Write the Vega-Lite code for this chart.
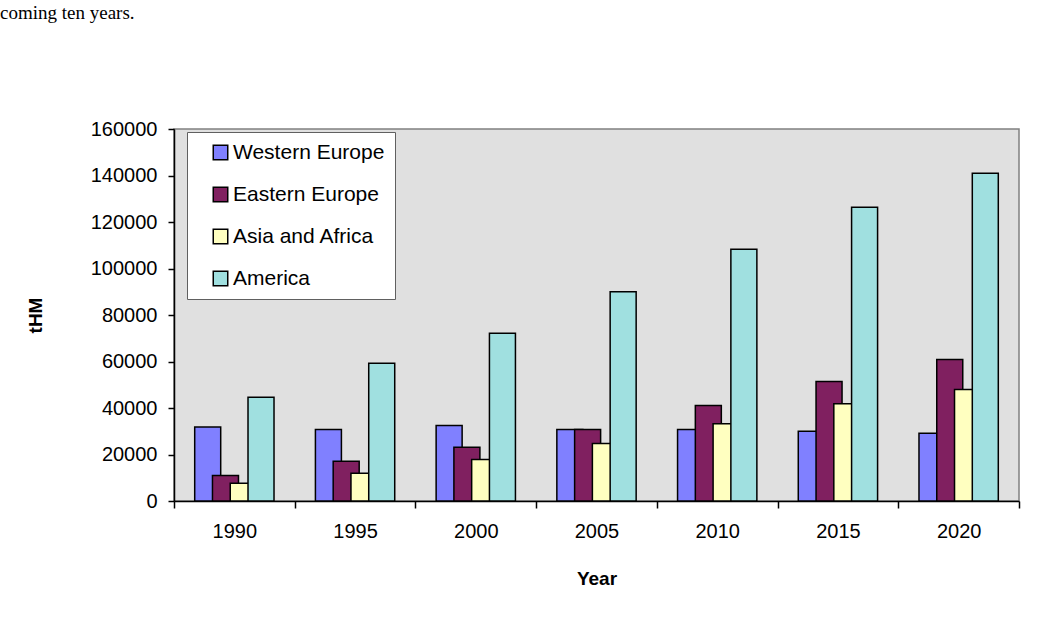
{
  "$schema": "https://vega.github.io/schema/vega-lite/v6.json",
  "autosize": "none",
  "width": 845,
  "height": 372,
  "padding": {"left": 174, "top": 129, "right": 43, "bottom": 121},
  "background": "white",
  "title": {
    "text": "coming ten years.",
    "anchor": "start",
    "frame": "group",
    "dx": -174,
    "offset": 81,
    "font": "Liberation Serif",
    "fontSize": 19,
    "fontWeight": "normal",
    "color": "black",
    "baseline": "alphabetic"
  },
  "data": {
    "values": [
      {"Year": "1990", "Region": "Western Europe", "tHM": 31800},
      {"Year": "1990", "Region": "Eastern Europe", "tHM": 11000},
      {"Year": "1990", "Region": "Asia and Africa", "tHM": 7600},
      {"Year": "1990", "Region": "America", "tHM": 44600},
      {"Year": "1995", "Region": "Western Europe", "tHM": 30800},
      {"Year": "1995", "Region": "Eastern Europe", "tHM": 17100},
      {"Year": "1995", "Region": "Asia and Africa", "tHM": 11900},
      {"Year": "1995", "Region": "America", "tHM": 59200},
      {"Year": "2000", "Region": "Western Europe", "tHM": 32500},
      {"Year": "2000", "Region": "Eastern Europe", "tHM": 23100},
      {"Year": "2000", "Region": "Asia and Africa", "tHM": 17800},
      {"Year": "2000", "Region": "America", "tHM": 72200},
      {"Year": "2005", "Region": "Western Europe", "tHM": 30700},
      {"Year": "2005", "Region": "Eastern Europe", "tHM": 30700},
      {"Year": "2005", "Region": "Asia and Africa", "tHM": 24700},
      {"Year": "2005", "Region": "America", "tHM": 90000},
      {"Year": "2010", "Region": "Western Europe", "tHM": 30800},
      {"Year": "2010", "Region": "Eastern Europe", "tHM": 41100},
      {"Year": "2010", "Region": "Asia and Africa", "tHM": 33200},
      {"Year": "2010", "Region": "America", "tHM": 108300},
      {"Year": "2015", "Region": "Western Europe", "tHM": 30000},
      {"Year": "2015", "Region": "Eastern Europe", "tHM": 51400},
      {"Year": "2015", "Region": "Asia and Africa", "tHM": 41800},
      {"Year": "2015", "Region": "America", "tHM": 126300},
      {"Year": "2020", "Region": "Western Europe", "tHM": 29100},
      {"Year": "2020", "Region": "Eastern Europe", "tHM": 60900},
      {"Year": "2020", "Region": "Asia and Africa", "tHM": 48000},
      {"Year": "2020", "Region": "America", "tHM": 141000}
    ]
  },
  "mark": {"type": "bar", "stroke": "black", "strokeWidth": 1.5, "width": 26},
  "encoding": {
    "x": {
      "field": "Year",
      "type": "nominal",
      "scale": {"paddingInner": 0, "paddingOuter": 0},
      "axis": {
        "title": "Year",
        "labelAngle": 0,
        "tickBand": "extent",
        "tickSize": 7,
        "labelPadding": 13,
        "titleY": 77,
        "titleBaseline": "middle"
      }
    },
    "xOffset": {
      "field": "Region",
      "type": "nominal",
      "scale": {
        "domain": ["_a", "Western Europe", "Eastern Europe", "Asia and Africa", "America", "_b"],
        "paddingInner": 0,
        "paddingOuter": 0.3965
      }
    },
    "y": {
      "field": "tHM",
      "type": "quantitative",
      "scale": {"domain": [0, 160000], "nice": false},
      "axis": {
        "title": "tHM",
        "values": [0, 20000, 40000, 60000, 80000, 100000, 120000, 140000, 160000],
        "format": "d",
        "grid": false,
        "tickSize": 6,
        "labelPadding": 11,
        "titleX": -139,
        "titleY": 186,
        "titleAngle": -90,
        "titleBaseline": "middle",
        "titleAlign": "center"
      }
    },
    "color": {
      "field": "Region",
      "type": "nominal",
      "sort": ["Western Europe", "Eastern Europe", "Asia and Africa", "America"],
      "scale": {
        "domain": ["Western Europe", "Eastern Europe", "Asia and Africa", "America"],
        "range": ["#8080FF", "#802060", "#FFFFC0", "#A0E0E0"]
      },
      "legend": {
        "title": null,
        "orient": "none",
        "legendX": 13,
        "legendY": 3,
        "fillColor": "white",
        "strokeColor": "#606060",
        "padding": 10,
        "symbolOffset": 13,
        "symbolType": "square",
        "symbolSize": 210,
        "symbolStrokeColor": "black",
        "symbolStrokeWidth": 1.5,
        "symbolOpacity": 1,
        "labelFont": "Liberation Sans",
        "labelFontSize": 21,
        "labelColor": "black",
        "labelOffset": 2,
        "rowPadding": 20
      }
    }
  },
  "config": {
    "view": {"fill": "#E0E0E0", "stroke": "#808080", "strokeWidth": 1.5},
    "axis": {
      "domainColor": "black",
      "domainWidth": 1.5,
      "tickColor": "black",
      "tickWidth": 1.5,
      "labelColor": "black",
      "labelFont": "Liberation Sans",
      "labelFontSize": 20,
      "titleFont": "Liberation Sans",
      "titleFontSize": 19,
      "titleFontWeight": "bold",
      "titleColor": "black"
    }
  }
}
